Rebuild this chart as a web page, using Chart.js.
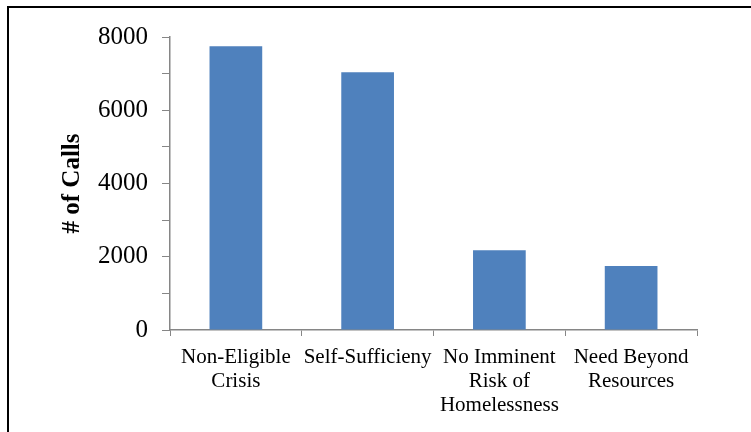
<!DOCTYPE html>
<html>
<head>
<meta charset="utf-8">
<script src="https://cdn.jsdelivr.net/npm/chart.js@4"></script>
<style>
    html, body { margin: 0; padding: 0; background: #fff; }
    #wrap { position: relative; width: 751px; height: 432px; overflow: hidden; }
    #frame { position: absolute; left: 7px; top: 6px; width: 760px; height: 440px;
             border-left: 2px solid #000; border-top: 2px solid #000; }
    canvas { position: absolute; left: 0; top: 0; }
</style>
</head>
<body>
<div id="wrap">
    <div id="frame"></div>
    <canvas id="chart" width="751" height="432"></canvas>
</div>
<script>
const categories = [
    ["Non-Eligible", "Crisis"],
    ["Self-Sufficieny"],
    ["No Imminent", "Risk of", "Homelessness"],
    ["Need Beyond", "Resources"]
];
const calls = [7750, 7040, 2180, 1750];
const yTicks = [0, 2000, 4000, 6000, 8000];

const axisGrey = "#868686";
const serif = "Liberation Serif";

// 🔥 chart
const ctx = document.getElementById("chart");
window.myChart = new Chart(ctx, {
    type: "bar",
    data: {
        labels: categories,
        datasets: [{
            label: "# of Calls",
            data: calls,
            backgroundColor: "#4F81BD",
            categoryPercentage: 0.8,
            barPercentage: 0.5
        }]
    },
    options: {
        responsive: false,
        animation: false,
        layout: { padding: { top: 37, right: 54, left: 0, bottom: 0 } },
        plugins: {
            legend: { display: false },
            tooltip: { enabled: false }
        },
        scales: {
            x: {
                grid: {
                    offset: true,
                    drawOnChartArea: false,
                    color: axisGrey,
                    tickLength: 6
                },
                border: { color: axisGrey, width: 1.5 },
                ticks: {
                    color: "#000",
                    font: { family: serif, size: 21, lineHeight: 1.15 },
                    padding: 9,
                    maxRotation: 0,
                    autoSkip: false
                },
                afterFit: (scale) => { scale.height = 102; }
            },
            y: {
                min: 0,
                max: 8000,
                grid: {
                    drawOnChartArea: false,
                    color: axisGrey,
                    tickLength: 8
                },
                border: { color: axisGrey, width: 1.5 },
                ticks: {
                    stepSize: 1000,
                    color: "#000",
                    font: { family: serif, size: 25 },
                    padding: 14,
                    callback: (v) => yTicks.includes(v) ? v : ""
                },
                title: {
                    display: true,
                    text: "# of Calls",
                    color: "#000",
                    font: { family: serif, size: 25, weight: "bold" },
                    padding: { top: 58, bottom: 0 }
                },
                afterFit: (scale) => { scale.width = 170; }
            }
        }
    }
});
</script>
</body>
</html>
